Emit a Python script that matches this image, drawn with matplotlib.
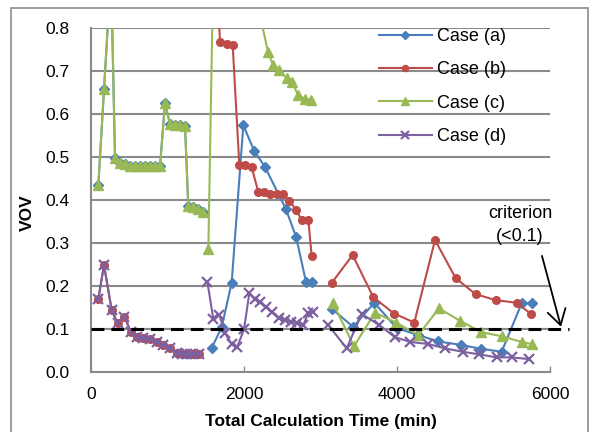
import numpy as np
import matplotlib
matplotlib.use("Agg")
import matplotlib.pyplot as plt
from matplotlib.patches import Rectangle

nan = np.nan

# ---- data -------------------------------------------------------------
early_ac_x = [96, 170, 262, 314, 379, 444, 510, 575, 640, 706, 771, 837, 902,
              967, 1033, 1098, 1163, 1229, 1272, 1337, 1403, 1468]
early_ac_y = [0.435, 0.657, 0.93, 0.497, 0.487, 0.483, 0.480, 0.479, 0.478,
              0.478, 0.478, 0.478, 0.478, 0.625, 0.577, 0.575, 0.575, 0.572,
              0.385, 0.383, 0.378, 0.373]

early_bd_x = [96, 170, 270, 349, 436, 518, 605, 684, 771, 858, 945, 1033,
              1120, 1185, 1259, 1337, 1416]
early_bd_y = [0.170, 0.249, 0.144, 0.113, 0.129, 0.094, 0.082, 0.078, 0.076,
              0.070, 0.063, 0.055, 0.045, 0.043, 0.042, 0.041, 0.042]

a_x = early_ac_x + [1490, 1578, 1708, 1839, 1991, 2131, 2274, 2545, 2680, 2810,
                    2885, 3000, 3155, 3427, 3703, 3996, 4275, 4539, 4837,
                    5100, 5368, 5630, 5760]
a_y = early_ac_y + [nan, 0.056, 0.104, 0.208, 0.574, 0.515, 0.477, 0.380,
                    0.315, 0.210, 0.210, nan, 0.146, 0.105, 0.161, 0.102,
                    0.086, 0.071, 0.063, 0.054, 0.047, 0.160, 0.160]

b_x = early_bd_x + [1500, 1640, 1686, 1774, 1852, 1939, 2013, 2100, 2187,
                    2261, 2340, 2427, 2514, 2593, 2680, 2754, 2841, 2885,
                    3000, 3150, 3420, 3690, 3961, 4226, 4497, 4767, 5028,
                    5294, 5564, 5752]
b_y = early_bd_y + [nan, 0.95, 0.768, 0.762, 0.760, 0.481, 0.481, 0.477,
                    0.418, 0.418, 0.415, 0.414, 0.414, 0.398, 0.377, 0.353,
                    0.353, 0.270, nan, 0.208, 0.272, 0.174, 0.136, 0.115,
                    0.307, 0.218, 0.181, 0.167, 0.161, 0.135]

c_x = early_ac_x + [1500, 1534, 1634, 2314, 2380, 2458, 2560, 2627, 2706,
                    2797, 2876, 3000, 3160, 3438, 3712, 3987, 4278, 4549,
                    4824, 5100, 5368, 5630, 5760]
c_y = early_ac_y + [nan, 0.286, 1.30, 0.744, 0.714, 0.702, 0.683, 0.675,
                    0.644, 0.635, 0.633, nan, 0.161, 0.060, 0.138, 0.115,
                    0.086, 0.148, 0.119, 0.093, 0.083, 0.070, 0.065]

d_x = early_bd_x + [1470, 1521, 1599, 1677, 1752, 1839, 1913, 2000, 2069,
                    2144, 2209, 2288, 2362, 2462, 2536, 2610, 2688, 2775,
                    2841, 2897, 3000, 3103, 3342, 3538, 3769, 3974, 4170,
                    4409, 4627, 4858, 5076, 5303, 5499, 5730]
d_y = early_bd_y + [nan, 0.210, 0.123, 0.133, 0.090, 0.065, 0.059, 0.099,
                    0.183, 0.169, 0.162, 0.152, 0.140, 0.125, 0.121, 0.117,
                    0.115, 0.109, 0.138, 0.139, nan, 0.109, 0.055, 0.135,
                    0.109, 0.081, 0.070, 0.065, 0.055, 0.047, 0.041, 0.034,
                    0.034, 0.030]

labels = ["Case (a)", "Case (b)", "Case (c)", "Case (d)"]
criterion = 0.1
x_ticks = [0, 2000, 4000, 6000]
y_ticks = [0.0, 0.1, 0.2, 0.3, 0.4, 0.5, 0.6, 0.7, 0.8]

# ---- style ------------------------------------------------------------
plt.rcParams['font.family'] = ['Liberation Sans', 'DejaVu Sans']
W, H = 593, 432
fig = plt.figure(figsize=(W / 100, H / 100), dpi=100)
ax = fig.add_axes([91 / W, 1 - 372 / H, (550 - 91) / W, (372 - 28) / H])

grid_c = '#8a8a8a'
for y in y_ticks[1:]:
    ax.axhline(y, color=grid_c, lw=1.5, zorder=0.5)

colors = ['#4A7EBB', '#BE4B48', '#98B954', '#7D60A0']
markers = ['D', 'o', '^', 'x']
msizes = [5, 5.5, 6.5, 6.5]
series = [(a_x, a_y), (b_x, b_y), (c_x, c_y), (d_x, d_y)]
for (xs, ys), col, mk, ms, lab in zip(series, colors, markers, msizes, labels):
    kw = dict(markeredgecolor=col, markerfacecolor=col)
    if mk == 'x':
        kw['markeredgewidth'] = 1.6
    ax.plot(xs, ys, color=col, lw=1.5, marker=mk, markersize=ms, label=lab,
            zorder=2, **kw)

ax.set_xlim(0, 6000)
ax.set_ylim(0, 0.8)
ax.set_xticks(x_ticks)
ax.set_xticklabels([str(v) for v in x_ticks])
ax.set_yticks(y_ticks)
ax.set_yticklabels([f"{v:.1f}" for v in y_ticks])
ax.tick_params(axis='x', direction='in', length=4, width=1, color=grid_c,
               labelsize=12.5, pad=11)
ax.tick_params(axis='y', length=0, labelsize=12.5, pad=15.5)
for s in ['top', 'right']:
    ax.spines[s].set_visible(False)
for s in ['left', 'bottom']:
    ax.spines[s].set_color(grid_c)
    ax.spines[s].set_linewidth(1.5)

# criterion line (extends past plot area)
ax.plot([0, 6250], [criterion, criterion], color='black', lw=2.2,
        linestyle=(0, (4.2, 2.3)), clip_on=False, zorder=5)
ax.annotate('', xy=(6144, 0.105), xytext=(5895, 0.27),
            arrowprops=dict(arrowstyle='->,head_length=0.55,head_width=0.33',
                            mutation_scale=20, color='black', lw=1.3,
                            shrinkA=0, shrinkB=0),
            annotation_clip=False, zorder=6)
ax.text(5608, 0.342, "criterion\n(<0.1)", ha='center', va='center',
        fontsize=13, linespacing=1.5)

ax.set_ylabel("VOV", fontsize=12.5, fontweight='bold')
ax.yaxis.set_label_coords((35 - 91) / (550 - 91), (372 - 213) / (372 - 28))
ax.set_xlabel("Total Calculation Time (min)", fontsize=12.5, fontweight='bold')
ax.xaxis.set_label_coords(0.5, -(414 - 372) / (372 - 28))

leg = ax.legend(loc='upper left', bbox_to_anchor=(372 / W, 1 - 21 / H),
                bbox_transform=fig.transFigure, frameon=False, fontsize=13,
                handlelength=2.9, handletextpad=0.3, labelspacing=0.9,
                markerscale=0.8, borderaxespad=0)

# outer chart border
fig.patches.append(Rectangle((11 / W, -0.05), (588 - 11) / W, 1 - 8 / H + 0.05,
                             transform=fig.transFigure, fill=False,
                             edgecolor='#8c8c8c', lw=1.2))

fig.savefig("out.png", dpi=100)
